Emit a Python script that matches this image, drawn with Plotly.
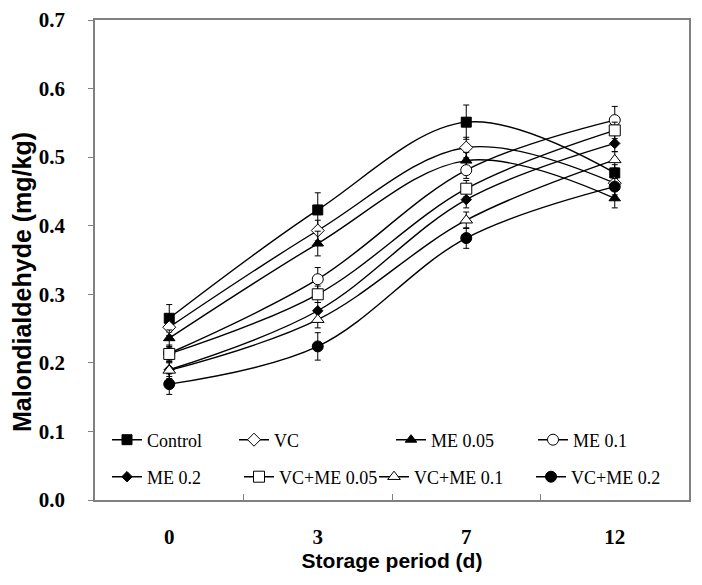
import plotly.graph_objects as go

days = ["0", "3", "7", "12"]

series_names = ["Control", "VC", "ME 0.05", "ME 0.1",
                "ME 0.2", "VC+ME 0.05", "VC+ME 0.1", "VC+ME 0.2"]

control = [0.265, 0.423, 0.551, 0.477]
vc = [0.252, 0.393, 0.514, 0.462]
me005 = [0.236, 0.374, 0.495, 0.440]
me01 = [0.214, 0.322, 0.481, 0.554]
me02 = [0.190, 0.276, 0.438, 0.520]
vcme005 = [0.213, 0.300, 0.454, 0.539]
vcme01 = [0.189, 0.263, 0.408, 0.496]
vcme02 = [0.169, 0.224, 0.382, 0.457]

control_err = [0.020, 0.025, 0.025, 0.012]
vc_err = [0.012, 0.015, 0.015, 0.010]
me005_err = [0.012, 0.018, 0.012, 0.014]
me01_err = [0.012, 0.017, 0.012, 0.020]
me02_err = [0.010, 0.012, 0.012, 0.012]
vcme005_err = [0.010, 0.012, 0.012, 0.012]
vcme01_err = [0.012, 0.012, 0.012, 0.012]
vcme02_err = [0.015, 0.020, 0.015, 0.012]

values = [control, vc, me005, me01, me02, vcme005, vcme01, vcme02]
errors = [control_err, vc_err, me005_err, me01_err, me02_err, vcme005_err, vcme01_err, vcme02_err]

# marker styles: (symbol, fill, size)
styles = [
    ("square", "black", 10),
    ("diamond", "white", 10),
    ("triangle-up", "black", 10),
    ("circle", "white", 11),
    ("diamond", "black", 8),
    ("square", "white", 11),
    ("triangle-up", "white", 11),
    ("circle", "black", 11),
]

# legend text start positions (window px) : row, x
legend_pos = [(0, 148), (0, 275), (0, 432), (0, 574),
              (1, 148), (1, 280), (1, 415), (1, 572)]

OFF = 8  # page body margin
L, R, T, B = 87, 5, 12, 77
W, H = 686, 569
pw = W - L - R
ph = H - T - B
row_y = [440, 477]

fig = go.Figure()
layout_legends = {}
for i, (name, vals, errs, st) in enumerate(zip(series_names, values, errors, styles)):
    lname = "legend" if i == 0 else f"legend{i+1}"
    fig.add_trace(go.Scatter(
        x=days, y=vals, name=name, mode="lines+markers",
        line=dict(color="black", width=1.4, shape="spline", smoothing=1.0),
        marker=dict(symbol=st[0], color=st[1], size=st[2],
                    line=dict(color="black", width=1)),
        error_y=dict(type="data", array=errs, visible=True,
                     color="black", thickness=1, width=3),
        legend=lname,
    ))
    r, xt = legend_pos[i]
    layout_legends[lname] = dict(
        x=(xt - 41 - OFF - L) / pw, y=(T + ph - (row_y[r] - OFF)) / ph,
        xanchor="left", yanchor="middle",
        bgcolor="rgba(0,0,0,0)", borderwidth=0,
        font=dict(family="Liberation Serif", size=18, color="black"),
        itemwidth=30, tracegroupgap=0,
    )

ytitle_center_y = 282  # window px
ytitle_center_x = 22

fig.update_layout(
    width=W, height=H,
    margin=dict(l=L, r=R, t=T, b=B, autoexpand=False),
    paper_bgcolor="white", plot_bgcolor="white",
    showlegend=True,
    annotations=[dict(
        text="<b>Malondialdehyde (mg/kg)</b>", textangle=-90,
        xref="paper", yref="paper",
        x=(ytitle_center_x - OFF - L) / pw,
        y=(T + ph - (ytitle_center_y - OFF)) / ph,
        xanchor="center", yanchor="middle", showarrow=False,
        font=dict(family="Liberation Sans", size=25, color="black"),
    )],
    **layout_legends,
)

fig.update_xaxes(
    type="category", range=[-0.5, 3.5], automargin=False,
    showline=True, linecolor="#808080", linewidth=1.5, mirror=True,
    ticks="inside", tickson="boundaries", ticklen=6, tickcolor="#808080",
    showgrid=False, zeroline=False,
    tickfont=dict(family="Liberation Serif", size=21, color="black", weight="bold"),
    ticklabelstandoff=17,
    title=dict(text="<b>Storage period (d)</b>", standoff=4,
               font=dict(family="Liberation Sans", size=21, color="black")),
)
fig.update_yaxes(
    range=[0, 0.7], dtick=0.1, tickformat=".1f", automargin=False,
    showline=True, linecolor="#808080", linewidth=1.5, mirror=True,
    ticks="outside", ticklen=5, tickcolor="#808080",
    showgrid=False, zeroline=False,
    tickfont=dict(family="Liberation Serif", size=21, color="black", weight="bold"),
    ticklabelstandoff=19,
)

fig.write_html("out.html")
